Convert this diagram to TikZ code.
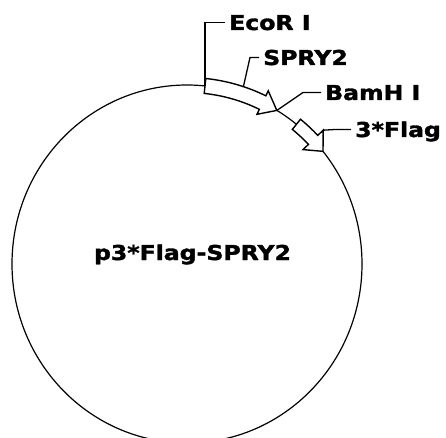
\documentclass[tikz,border=0pt]{standalone}
\usepackage{fontspec}
\usepackage{graphicx}
\newfontfamily\plasfont{DejaVu Sans}[BoldFeatures={FakeBold=1.6}]
\newcommand{\wide}[1]{\scalebox{1.15}[1]{#1}}
\def\cx{187}
\def\cy{173}
\def\rx{175}
\def\ry{179}
% feature arrow: start angle, head base angle, tip angle, half width, head half width
\newcommand{\featarrow}[5]{%
  \pgfmathsetmacro\ao{\rx+#4}\pgfmathsetmacro\bo{\ry+#4}%
  \pgfmathsetmacro\ai{\rx-#4}\pgfmathsetmacro\bi{\ry-#4}%
  \pgfmathsetmacro\ah{\rx+#5}\pgfmathsetmacro\bh{\ry+#5}%
  \pgfmathsetmacro\ak{\rx-#5}\pgfmathsetmacro\bk{\ry-#5}%
  \filldraw[featline] ([shift={(#1:\ao\space and \bo)}]c)
    arc[start angle=#1, end angle=#2, x radius=\ao, y radius=\bo]
    -- ([shift={(#2:\ah\space and \bh)}]c)
    -- ([shift={(#3:\rx\space and \ry)}]c)
    -- ([shift={(#2:\ak\space and \bk)}]c)
    -- ([shift={(#2:\ai\space and \bi)}]c)
    arc[start angle=#2, end angle=#1, x radius=\ai, y radius=\bi]
    -- cycle;}
\begin{document}
\begin{tikzpicture}[x=1pt,y=1pt,
    backbone/.style={line width=1.2pt,black},
    featline/.style={line width=1.4pt,black,fill=white,line join=miter},
    leader/.style={line width=1.3pt,black},
    site/.style={font=\plasfont\bfseries\fontsize{20.5}{22}\selectfont,
      inner sep=4pt,text height=15pt,text depth=0pt,anchor=base west}]
  \useasboundingbox (0,0) rectangle (446,437);
  \clip (0,0) rectangle (446,437);
  \coordinate (c) at (\cx,\cy);
  % backbone
  \draw[backbone] (c) ellipse [x radius=\rx, y radius=\ry];
  % features
  \featarrow{84.1}{64.4}{59.1}{7.5}{13}
  \featarrow{51.3}{43.9}{39.0}{6.5}{14}
  % leader points
  \coordinate (ecoPt) at ([shift={(84.1:\rx\space and \ry)}]c);
  \coordinate (spryPt) at ([shift={(72:182.5 and 186.5)}]c);
  \coordinate (bamPt) at ([shift={(59.1:\rx\space and \ry)}]c);
  \coordinate (flagPt) at ([shift={(43.9:189 and 193)}]c);
  % labels
  \node[site] (ecor) at (225,407) {\wide{EcoR I}};
  \node[site] (spry) at (259,372) {\wide{SPRY2}};
  \node[site] (bam) at (321,337) {\wide{BamH I}};
  \node[site] (flag) at (351,300) {\wide{3*Flag}};
  \node[font=\plasfont\bfseries\fontsize{20.5}{22}\selectfont,anchor=base,inner sep=0pt]
    (name) at (192.5,177) {\wide{p3*Flag-SPRY2}};
  % leaders
  \draw[leader] (ecoPt) |- (ecor.west);
  \draw[leader] (spryPt) -- ([xshift=-9pt]spry.west) -- (spry.west);
  \draw[leader] (bamPt) -- ([xshift=-18pt]bam.west) -- (bam.west);
  \draw[leader] (flagPt) -- ([xshift=-16pt]flag.west) -- (flag.west);
\end{tikzpicture}
\end{document}
